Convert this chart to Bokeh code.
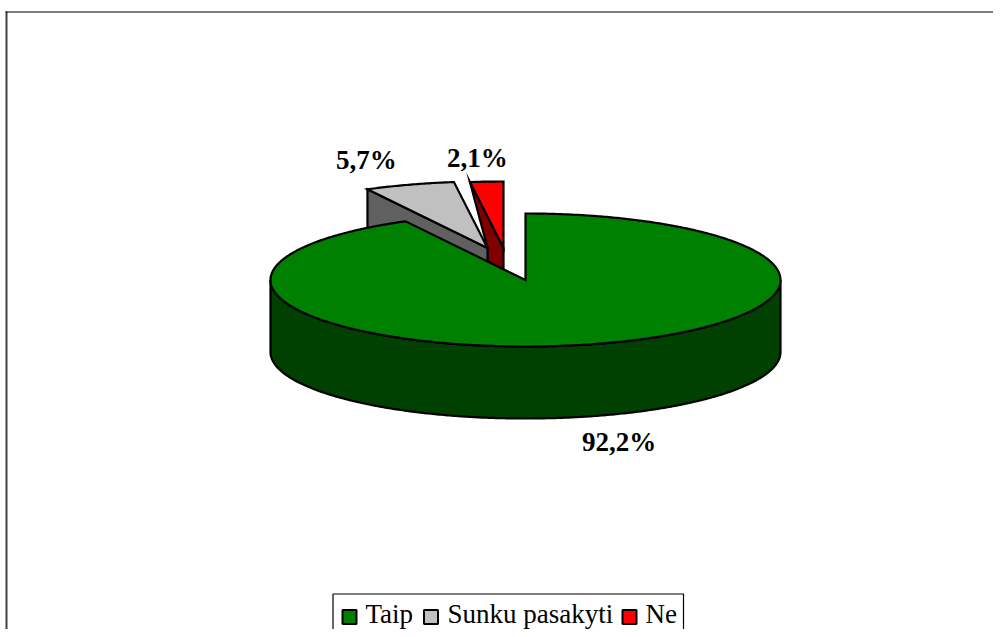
import numpy as np
from bokeh.plotting import figure
from bokeh.embed import file_html
from bokeh.resources import INLINE
from bokeh.core.properties import value

categories = ["Taip", "Sunku pasakyti", "Ne"]
shares = [92.2, 5.7, 2.1]
labels = ["92,2%", "5,7%", "2,1%"]

top_colors = ["#008000", "#C0C0C0", "#FF0000"]
side_colors = ["#004000", "#606060", "#800000"]

W, H = 993, 629
CX, CY, RX, RY, DEPTH = 525.0, 279.5, 255.0, 66.5, 72.0
OFFSETS = [(0, 0), (-38, -32), (-22, -32)]
SERIF = value("Liberation Serif")

p = figure(width=W, height=H, x_range=(0, W), y_range=(H, 0), toolbar_location=None,
           output_backend="svg", min_border=0, outline_line_color=None,
           background_fill_color="white", border_fill_color="white")
p.axis.visible = False
p.grid.visible = False

# chart frame (runs off the right and bottom of the picture)
p.line([6, 6], [650, 11], line_color="#404040", line_width=2)
p.line([5, 1010], [11.5, 11.5], line_color="black", line_width=1.2)


def rim(start, end, ox=0.0, oy=0.0, dy=0.0):
    t = np.radians(np.linspace(start, end, max(int(abs(end - start)) * 2, 2)))
    return CX + ox + RX * np.sin(t), CY + oy + dy - RY * np.cos(t)


def poly(xs, ys, color):
    p.patch(list(xs), list(ys), fill_color=color, line_color="black", line_width=2.2,
            line_join="miter")


total = sum(shares)
edges = np.concatenate([[0], np.cumsum(shares) / total * 360])
a_main, a_gray, a_red = (edges[1], edges[2], edges[3])
apex = [(CX + ox, CY + oy) for ox, oy in OFFSETS]

# Ne: side wall, then top
ox, oy = OFFSETS[2]
ex, ey = rim(a_gray, a_gray, ox, oy)
gx, gy = apex[1]
poly([ex[0], apex[2][0], apex[2][0], gx, gx], [ey[0], apex[2][1], apex[2][1] + DEPTH, gy + DEPTH, gy],
     side_colors[2])
rx_, ry_ = rim(a_gray, a_red, ox, oy)
poly(np.r_[apex[2][0], rx_], np.r_[apex[2][1], ry_], top_colors[2])

# Sunku pasakyti: side wall, then top
ox, oy = OFFSETS[1]
ex, ey = rim(a_main, a_main, ox, oy)
poly([ex[0], gx, gx, ex[0]], [ey[0], gy, gy + DEPTH, ey[0] + DEPTH], side_colors[1])
rx_, ry_ = rim(a_main, a_gray, ox, oy)
poly(np.r_[gx, rx_], np.r_[gy, ry_], top_colors[1])

# Taip: front wall, then top
fx, fy = rim(90, 270)
bx, by = rim(270, 90, dy=DEPTH)
poly(np.r_[fx, bx], np.r_[fy, by], side_colors[0])
rx_, ry_ = rim(0, a_main)
poly(np.r_[CX, rx_], np.r_[CY, ry_], top_colors[0])

# value labels
p.text(x=[581.5, 335.5, 446.5], y=[456.5, 174.5, 172.5], text=labels, text_font=SERIF,
       text_font_size="27px", text_font_style="bold", text_color="black",
       text_align="left", text_baseline="bottom")

# legend
p.patch([332.5, 332.5, 683, 683], [650, 593.5, 593.5, 650], fill_color="white",
        line_color="black", line_width=1.2)
swatch_x = [342, 423.5, 622]
text_x = [365, 447, 645]
for sx, col in zip(swatch_x, top_colors):
    p.patch([sx, sx + 14, sx + 14, sx], [609.5, 609.5, 623.5, 623.5], fill_color=col,
            line_color="black", line_width=2)
p.text(x=text_x, y=[628.8] * 3, text=categories, text_font=SERIF, text_font_size="27px",
       text_color="black", text_align="left", text_baseline="bottom")

open("out.html", "w").write(file_html(p, INLINE))
